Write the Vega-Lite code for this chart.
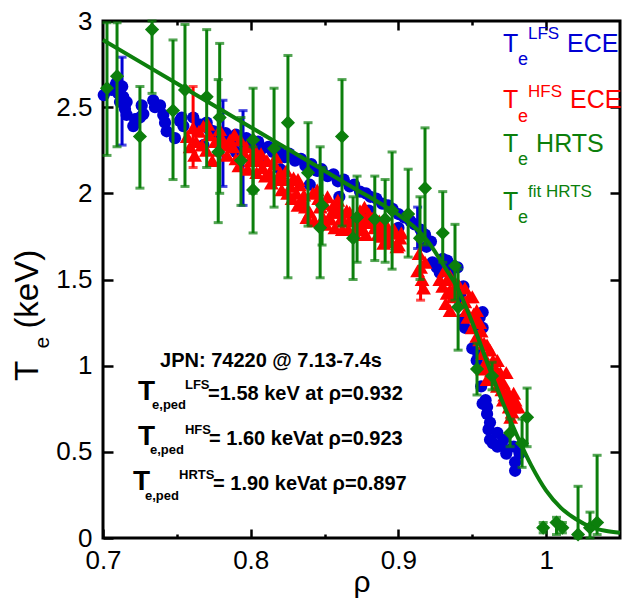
{
  "$schema": "https://vega.github.io/schema/vega-lite/v6.json",
  "width": 517,
  "height": 517,
  "autosize": {"type": "none"},
  "padding": {"left": 103, "top": 21, "right": 5, "bottom": 61},
  "background": "white",
  "config": {
    "font": "Liberation Sans",
    "view": {"stroke": "black", "strokeWidth": 3},
    "axis": {"grid": false, "domain": false, "tickColor": "black", "tickWidth": 2.5, "labelColor": "black", "labelFont": "Liberation Sans", "labelFontSize": 26, "labelFlush": false, "labelOverlap": false, "titleColor": "black", "titleFont": "Liberation Sans", "titleFontWeight": "normal"}
  },
  "resolve": {"axis": {"x": "independent", "y": "independent"}},
  "datasets": {
    "lfs": [
      {"rho":0.7005,"te":2.57},{"rho":0.7030,"te":2.60},{"rho":0.7059,"te":2.60},{"rho":0.7080,"te":2.62},{"rho":0.7090,"te":2.64},{"rho":0.7104,"te":2.58},{"rho":0.7130,"te":2.62},{"rho":0.7115,"te":2.60},{"rho":0.7137,"te":2.56},{"rho":0.7115,"te":2.53},{"rho":0.7135,"te":2.54},{"rho":0.7160,"te":2.53},{"rho":0.7149,"te":2.49},{"rho":0.7160,"te":2.455},{"rho":0.7217,"te":2.43},{"rho":0.7205,"te":2.39},{"rho":0.7262,"te":2.51},{"rho":0.7273,"te":2.46},{"rho":0.7250,"te":2.44},{"rho":0.7340,"te":2.54},{"rho":0.7352,"te":2.50},{"rho":0.7386,"te":2.51},{"rho":0.7408,"te":2.455},{"rho":0.7420,"te":2.41},{"rho":0.7431,"te":2.36},{"rho":0.7487,"te":2.32},{"rho":0.7533,"te":2.44},{"rho":0.7544,"te":2.39},{"rho":0.7520,"te":2.42},{"rho":0.7611,"te":2.44},{"rho":0.7650,"te":2.40},{"rho":0.7680,"te":2.28},{"rho":0.7702,"te":2.41},{"rho":0.7720,"te":2.37},
      {"rho":0.775,"te":2.36},{"rho":0.779,"te":2.33},{"rho":0.783,"te":2.35},{"rho":0.787,"te":2.31},{"rho":0.790,"te":2.34},{"rho":0.794,"te":2.30},{"rho":0.797,"te":2.32},{"rho":0.801,"te":2.28},{"rho":0.805,"te":2.30},{"rho":0.808,"te":2.26},{"rho":0.812,"te":2.27},{"rho":0.815,"te":2.24},{"rho":0.819,"te":2.25},{"rho":0.823,"te":2.21},{"rho":0.826,"te":2.23},{"rho":0.830,"te":2.19},{"rho":0.834,"te":2.20},{"rho":0.837,"te":2.16},{"rho":0.841,"te":2.17},{"rho":0.845,"te":2.13},{"rho":0.848,"te":2.14},{"rho":0.852,"te":2.10},{"rho":0.856,"te":2.11},{"rho":0.859,"te":2.07},{"rho":0.863,"te":2.08},{"rho":0.867,"te":2.04},{"rho":0.870,"te":2.05},{"rho":0.874,"te":2.01},{"rho":0.878,"te":2.00},{"rho":0.881,"te":1.98},{"rho":0.885,"te":1.97},{"rho":0.889,"te":1.94},{"rho":0.893,"te":1.93},{"rho":0.896,"te":1.91},{"rho":0.900,"te":1.88},{"rho":0.904,"te":1.86},{"rho":0.908,"te":1.84},{"rho":0.911,"te":1.82},{"rho":0.915,"te":1.79},{"rho":0.918,"te":1.76},
      {"rho":0.790,"te":2.24},{"rho":0.805,"te":2.20},{"rho":0.820,"te":2.14},{"rho":0.840,"te":2.05},{"rho":0.860,"te":1.98},{"rho":0.880,"te":1.90},{"rho":0.900,"te":1.80},
      {"rho":0.919,"te":1.69},{"rho":0.922,"te":1.72},{"rho":0.923,"te":1.60},{"rho":0.926,"te":1.57},{"rho":0.928,"te":1.54},{"rho":0.930,"te":1.62},{"rho":0.933,"te":1.61},{"rho":0.935,"te":1.54},{"rho":0.936,"te":1.58},{"rho":0.940,"te":1.57},{"rho":0.942,"te":1.42},{"rho":0.944,"te":1.46},{"rho":0.942,"te":1.36},{"rho":0.944,"te":1.27},{"rho":0.944,"te":1.25},{"rho":0.945,"te":1.22},{"rho":0.950,"te":1.10},{"rho":0.953,"te":1.03},{"rho":0.954,"te":1.07},{"rho":0.955,"te":1.28},{"rho":0.957,"te":1.22},{"rho":0.957,"te":1.31},{"rho":0.956,"te":0.88},{"rho":0.957,"te":0.78},{"rho":0.959,"te":0.80},{"rho":0.960,"te":0.76},{"rho":0.960,"te":0.72},{"rho":0.961,"te":0.63},{"rho":0.962,"te":0.67},{"rho":0.962,"te":0.57},{"rho":0.964,"te":0.55},{"rho":0.967,"te":0.61},{"rho":0.967,"te":0.53},{"rho":0.971,"te":0.57},{"rho":0.973,"te":0.51},{"rho":0.973,"te":0.49},{"rho":0.978,"te":0.53},{"rho":0.979,"te":0.44},{"rho":0.979,"te":0.39},{"rho":0.982,"te":0.49}
    ],
    "lfs_err": [
      {"rho":0.7129,"lo":2.28,"hi":2.79},{"rho":0.7812,"lo":2.04,"hi":2.54},{"rho":0.7948,"lo":1.93,"hi":2.48},{"rho":0.913,"lo":1.68,"hi":1.92}
    ],
    "hfs": [
      {"rho":0.757,"te":2.33},{"rho":0.759,"te":2.27},{"rho":0.761,"te":2.38},{"rho":0.763,"te":2.30},{"rho":0.765,"te":2.36},{"rho":0.768,"te":2.39},{"rho":0.770,"te":2.25},{"rho":0.772,"te":2.34},{"rho":0.774,"te":2.19},{"rho":0.776,"te":2.30},{"rho":0.779,"te":2.37},{"rho":0.781,"te":2.31},{"rho":0.784,"te":2.22},{"rho":0.786,"te":2.31},{"rho":0.788,"te":2.27},{"rho":0.790,"te":2.20},{"rho":0.793,"te":2.31},{"rho":0.795,"te":2.24},{"rho":0.797,"te":2.27},{"rho":0.800,"te":2.19},{"rho":0.801,"te":2.22},{"rho":0.803,"te":2.25},{"rho":0.806,"te":2.19},{"rho":0.808,"te":2.15},{"rho":0.811,"te":2.19},{"rho":0.813,"te":2.12},{"rho":0.816,"te":2.17},{"rho":0.818,"te":2.08},{"rho":0.820,"te":2.12},{"rho":0.822,"te":2.08},{"rho":0.824,"te":2.13},{"rho":0.827,"te":2.04},{"rho":0.829,"te":2.09},{"rho":0.831,"te":2.00},{"rho":0.832,"te":2.08},{"rho":0.833,"te":2.05},{"rho":0.835,"te":1.96},{"rho":0.836,"te":1.99},{"rho":0.838,"te":1.86},{"rho":0.840,"te":1.89},{"rho":0.842,"te":2.00},{"rho":0.845,"te":2.02},{"rho":0.847,"te":1.92},{"rho":0.849,"te":1.86},{"rho":0.850,"te":1.94},{"rho":0.852,"te":1.98},{"rho":0.854,"te":1.85},{"rho":0.856,"te":1.93},{"rho":0.858,"te":1.89},{"rho":0.859,"te":1.96},{"rho":0.861,"te":1.85},{"rho":0.862,"te":1.79},{"rho":0.865,"te":1.90},{"rho":0.867,"te":1.89},{"rho":0.869,"te":1.84},{"rho":0.872,"te":1.81},{"rho":0.874,"te":1.90},{"rho":0.876,"te":1.79},{"rho":0.877,"te":1.92},{"rho":0.879,"te":1.85},{"rho":0.881,"te":1.83},{"rho":0.883,"te":1.86},{"rho":0.886,"te":1.76},{"rho":0.888,"te":1.81},{"rho":0.890,"te":1.71},{"rho":0.893,"te":1.80},{"rho":0.896,"te":1.77},{"rho":0.899,"te":1.69},{"rho":0.901,"te":1.74},
      {"rho":0.762,"te":2.22},{"rho":0.767,"te":2.28},{"rho":0.771,"te":2.40},{"rho":0.778,"te":2.25},{"rho":0.783,"te":2.28},{"rho":0.789,"te":2.34},{"rho":0.792,"te":2.16},{"rho":0.798,"te":2.14},{"rho":0.804,"te":2.12},{"rho":0.807,"te":2.23},{"rho":0.810,"te":2.10},{"rho":0.814,"te":2.06},{"rho":0.817,"te":2.21},{"rho":0.821,"te":2.02},{"rho":0.825,"te":2.00},{"rho":0.828,"te":1.97},{"rho":0.832,"te":1.93},{"rho":0.837,"te":1.92},{"rho":0.843,"te":1.84},{"rho":0.846,"te":1.97},{"rho":0.851,"te":1.82},{"rho":0.855,"te":1.89},{"rho":0.857,"te":1.80},{"rho":0.860,"te":1.91},{"rho":0.863,"te":1.84},{"rho":0.866,"te":1.79},{"rho":0.868,"te":1.86},{"rho":0.871,"te":1.76},{"rho":0.873,"te":1.86},{"rho":0.875,"te":1.84},{"rho":0.878,"te":1.76},{"rho":0.880,"te":1.88},{"rho":0.884,"te":1.80},{"rho":0.887,"te":1.84},{"rho":0.889,"te":1.75},{"rho":0.892,"te":1.74},{"rho":0.895,"te":1.72},{"rho":0.897,"te":1.79},{"rho":0.900,"te":1.70},{"rho":0.902,"te":1.77},
      {"rho":0.914,"te":1.65},{"rho":0.915,"te":1.57},{"rho":0.916,"te":1.50},{"rho":0.917,"te":1.45},{"rho":0.918,"te":1.60},{"rho":0.913,"te":1.55},{"rho":0.928,"te":1.50},{"rho":0.931,"te":1.55},{"rho":0.933,"te":1.50},{"rho":0.935,"te":1.44},{"rho":0.937,"te":1.40},{"rho":0.935,"te":1.52},{"rho":0.933,"te":1.42},{"rho":0.935,"te":1.32},{"rho":0.930,"te":1.46},{"rho":0.932,"te":1.36},{"rho":0.938,"te":1.45},{"rho":0.940,"te":1.48},{"rho":0.945,"te":1.37},{"rho":0.945,"te":1.45},{"rho":0.946,"te":1.32},{"rho":0.947,"te":1.28},{"rho":0.948,"te":1.40},{"rho":0.950,"te":1.40},{"rho":0.951,"te":1.30},{"rho":0.952,"te":1.25},{"rho":0.953,"te":1.32},{"rho":0.950,"te":1.22},{"rho":0.953,"te":1.17},{"rho":0.955,"te":1.15},{"rho":0.955,"te":1.25},{"rho":0.956,"te":1.20},{"rho":0.958,"te":1.13},{"rho":0.957,"te":1.07},{"rho":0.957,"te":0.98},{"rho":0.959,"te":1.02},{"rho":0.960,"te":0.92},{"rho":0.960,"te":1.12},{"rho":0.961,"te":1.00},{"rho":0.962,"te":1.09},{"rho":0.963,"te":0.97},{"rho":0.964,"te":1.03},{"rho":0.965,"te":0.94},{"rho":0.966,"te":0.98},{"rho":0.967,"te":1.03},{"rho":0.968,"te":0.92},{"rho":0.969,"te":0.96},{"rho":0.970,"te":0.86},{"rho":0.971,"te":0.90},{"rho":0.972,"te":0.83},{"rho":0.973,"te":0.96},{"rho":0.967,"te":0.88},{"rho":0.975,"te":0.76},{"rho":0.976,"te":0.80},{"rho":0.977,"te":0.73},{"rho":0.978,"te":0.76},{"rho":0.976,"te":0.70},{"rho":0.971,"te":0.80},{"rho":0.974,"te":0.85},{"rho":0.978,"te":0.84},{"rho":0.979,"te":0.80},{"rho":0.981,"te":0.76}
    ],
    "hfs_err": [
      {"rho":0.761,"lo":2.15,"hi":2.62},{"rho":0.915,"lo":1.38,"hi":1.75}
    ],
    "hrts": [
      {"rho":0.7027,"te":2.61,"lo":2.22,"hi":2.99},{"rho":0.7095,"te":2.68,"lo":2.27,"hi":2.99},{"rho":0.7332,"te":2.95,"lo":2.58,"hi":3.0},{"rho":0.7250,"te":2.33,"lo":2.03,"hi":2.62},{"rho":0.7555,"te":2.60,"lo":2.04,"hi":2.98},{"rho":0.7474,"te":2.48,"lo":2.08,"hi":2.89},{"rho":0.7702,"te":2.56,"lo":2.15,"hi":2.95},{"rho":0.7780,"te":2.24,"lo":1.83,"hi":2.66},{"rho":0.7790,"te":2.44,"lo":2.00,"hi":2.87},{"rho":0.7934,"te":2.19,"lo":1.93,"hi":2.44},{"rho":0.8016,"te":2.31,"lo":2.00,"hi":2.61},{"rho":0.8016,"te":2.02,"lo":1.77,"hi":2.27},{"rho":0.8158,"te":2.26,"lo":1.92,"hi":2.61},{"rho":0.8252,"te":2.41,"lo":1.51,"hi":2.80},{"rho":0.8388,"te":2.12,"lo":1.81,"hi":2.41},{"rho":0.8470,"te":1.80,"lo":1.51,"hi":2.27},{"rho":0.8483,"te":1.93,"lo":1.70,"hi":2.15},{"rho":0.8618,"te":2.33,"lo":1.81,"hi":2.66},{"rho":0.8693,"te":1.74,"lo":1.50,"hi":1.98},{"rho":0.8720,"te":1.86,"lo":1.60,"hi":2.10},{"rho":0.8840,"te":1.85,"lo":1.61,"hi":2.10},{"rho":0.8910,"te":1.85,"lo":1.60,"hi":2.08},{"rho":0.8957,"te":1.90,"lo":1.56,"hi":2.24},{"rho":0.9066,"te":1.88,"lo":1.63,"hi":2.14},{"rho":0.9146,"te":1.74,"lo":1.50,"hi":1.98},{"rho":0.9180,"te":2.03,"lo":1.70,"hi":2.38},{"rho":0.9300,"te":1.77,"lo":1.60,"hi":2.01},{"rho":0.9383,"te":1.58,"lo":1.38,"hi":1.82},{"rho":0.9404,"te":1.34,"lo":1.09,"hi":1.56},{"rho":0.9532,"te":0.98,"lo":0.83,"hi":1.13},{"rho":0.9634,"te":0.94,"lo":0.86,"hi":1.02},{"rho":0.9756,"te":0.61,"lo":0.53,"hi":0.69},{"rho":0.9871,"te":0.70,"lo":0.53,"hi":0.87},{"rho":0.9837,"te":0.55,"lo":0.41,"hi":0.69},{"rho":0.9980,"te":0.06,"lo":0.03,"hi":0.09},{"rho":1.0070,"te":0.09,"lo":0.02,"hi":0.12},{"rho":1.0110,"te":0.06,"lo":0.03,"hi":0.09},{"rho":1.0216,"te":0.02,"lo":0.0,"hi":0.30},{"rho":1.0297,"te":0.06,"lo":0.0,"hi":0.15},{"rho":1.0345,"te":0.09,"lo":0.02,"hi":0.48}
    ],
    "fit": [
      {"rho":0.70,"te":2.89},{"rho":0.75,"te":2.637},{"rho":0.80,"te":2.384},{"rho":0.85,"te":2.131},{"rho":0.87,"te":2.03},{"rho":0.89,"te":1.93},{"rho":0.90,"te":1.875},{"rho":0.91,"te":1.81},{"rho":0.92,"te":1.72},{"rho":0.93,"te":1.59},{"rho":0.94,"te":1.45},{"rho":0.95,"te":1.25},{"rho":0.96,"te":1.02},{"rho":0.97,"te":0.80},{"rho":0.98,"te":0.60},{"rho":0.99,"te":0.42},{"rho":1.00,"te":0.275},{"rho":1.01,"te":0.175},{"rho":1.02,"te":0.11},{"rho":1.03,"te":0.065},{"rho":1.04,"te":0.042},{"rho":1.05,"te":0.03}
    ],
    "leg_big": [
      {"rho":0.9708,"te":2.82,"s":"LFS","t":"T"},{"rho":0.9708,"te":2.496,"s":"HFS","t":"T"},{"rho":0.9708,"te":2.24,"s":"HRTS","t":"T"},{"rho":0.9708,"te":1.904,"s":"HRTS","t":"T"},
      {"rho":1.0142,"te":2.82,"s":"LFS","t":"ECE"},{"rho":1.0162,"te":2.496,"s":"HFS","t":"ECE"},{"rho":0.9932,"te":2.24,"s":"HRTS","t":"HRTS"}
    ],
    "leg_sub": [
      {"rho":0.981,"te":2.745,"s":"LFS","t":"e"},{"rho":0.981,"te":2.414,"s":"HFS","t":"e"},{"rho":0.981,"te":2.165,"s":"HRTS","t":"e"},{"rho":0.981,"te":1.83,"s":"HRTS","t":"e"}
    ],
    "leg_sup": [
      {"rho":0.9877,"te":2.896,"s":"LFS","t":"LFS"},{"rho":0.9877,"te":2.56,"s":"HFS","t":"HFS"},{"rho":0.9877,"te":1.979,"s":"HRTS","t":"fit HRTS"}
    ],
    "note_main": [
      {"rho":0.7386,"te":0.9925,"t":"JPN: 74220 @ 7.13-7.4s"},{"rho":0.7711,"te":0.801,"t":"=1.58 keV at ρ=0.932"},{"rho":0.7718,"te":0.54,"t":"= 1.60 keVat ρ=0.923"},{"rho":0.7745,"te":0.279,"t":"= 1.90 keVat ρ=0.897"}
    ],
    "note_T": [
      {"rho":0.7237,"te":0.801,"t":"T"},{"rho":0.7237,"te":0.54,"t":"T"},{"rho":0.7203,"te":0.279,"t":"T"}
    ],
    "note_small": [
      {"rho":0.7332,"te":0.749,"t":"e,ped"},{"rho":0.7318,"te":0.4875,"t":"e,ped"},{"rho":0.7284,"te":0.2205,"t":"e,ped"},
      {"rho":0.7555,"te":0.865,"t":"LFS"},{"rho":0.7555,"te":0.604,"t":"HFS"},{"rho":0.7515,"te":0.342,"t":"HRTS"}
    ],
    "ytitle": [
      {"rho":0.656,"te":0.911,"t":"T"},{"rho":0.656,"te":1.215,"t":"(keV)"}
    ],
    "ytitle_sub": [
      {"rho":0.6634,"te":1.10,"t":"e"}
    ]
  },
  "layer": [
    {"data": {"name": "lfs_err"}, "mark": {"type": "rule", "color": "#0000d4", "strokeWidth": 3},
     "encoding": {"x": {"field": "rho", "type": "quantitative", "axis": null}, "y": {"field": "lo", "type": "quantitative", "axis": null}, "y2": {"field": "hi"}}},
    {"data": {"name": "lfs_err"}, "mark": {"type": "tick", "orient": "horizontal", "color": "#0000d4", "size": 9, "thickness": 3},
     "encoding": {"x": {"field": "rho", "type": "quantitative", "axis": null}, "y": {"field": "lo", "type": "quantitative", "axis": null}}},
    {"data": {"name": "lfs_err"}, "mark": {"type": "tick", "orient": "horizontal", "color": "#0000d4", "size": 9, "thickness": 3},
     "encoding": {"x": {"field": "rho", "type": "quantitative", "axis": null}, "y": {"field": "hi", "type": "quantitative", "axis": null}}},
    {"data": {"name": "lfs"}, "mark": {"type": "point", "shape": "circle", "filled": true, "color": "#0000d4", "size": 150, "opacity": 1},
     "encoding": {
       "x": {"field": "rho", "type": "quantitative", "axis": {"orient": "top", "values": [0.8, 0.9, 1.0], "labels": false, "tickSize": -9, "title": null}},
       "y": {"field": "te", "type": "quantitative", "axis": {"orient": "right", "values": [0.5, 1, 1.5, 2, 2.5], "labels": false, "tickSize": -10, "title": null}}}},
    {"data": {"name": "hfs_err"}, "mark": {"type": "rule", "color": "#ff0000", "strokeWidth": 3},
     "encoding": {"x": {"field": "rho", "type": "quantitative", "axis": null}, "y": {"field": "lo", "type": "quantitative", "axis": null}, "y2": {"field": "hi"}}},
    {"data": {"name": "hfs_err"}, "mark": {"type": "tick", "orient": "horizontal", "color": "#ff0000", "size": 9, "thickness": 3},
     "encoding": {"x": {"field": "rho", "type": "quantitative", "axis": null}, "y": {"field": "lo", "type": "quantitative", "axis": null}}},
    {"data": {"name": "hfs_err"}, "mark": {"type": "tick", "orient": "horizontal", "color": "#ff0000", "size": 9, "thickness": 3},
     "encoding": {"x": {"field": "rho", "type": "quantitative", "axis": null}, "y": {"field": "hi", "type": "quantitative", "axis": null}}},
    {"data": {"name": "hfs"}, "mark": {"type": "point", "shape": "triangle-up", "filled": true, "color": "#ff0000", "size": 220, "opacity": 1},
     "encoding": {
       "x": {"field": "rho", "type": "quantitative", "axis": {"orient": "bottom", "values": [0.75, 0.85, 0.95], "labels": false, "tickSize": -4, "title": null}},
       "y": {"field": "te", "type": "quantitative", "axis": null}}},
    {"data": {"name": "hrts"}, "mark": {"type": "rule", "color": "#0c7f0c", "strokeWidth": 3},
     "encoding": {"x": {"field": "rho", "type": "quantitative", "axis": null}, "y": {"field": "lo", "type": "quantitative", "axis": null}, "y2": {"field": "hi"}}},
    {"data": {"name": "hrts"}, "mark": {"type": "tick", "orient": "horizontal", "color": "#0c7f0c", "size": 9, "thickness": 3},
     "encoding": {"x": {"field": "rho", "type": "quantitative", "axis": null}, "y": {"field": "lo", "type": "quantitative", "axis": null}}},
    {"data": {"name": "hrts"}, "mark": {"type": "tick", "orient": "horizontal", "color": "#0c7f0c", "size": 9, "thickness": 3},
     "encoding": {"x": {"field": "rho", "type": "quantitative", "axis": null}, "y": {"field": "hi", "type": "quantitative", "axis": null}}},
    {"data": {"name": "hrts"}, "mark": {"type": "point", "shape": "diamond", "filled": true, "color": "#0c7f0c", "size": 200, "opacity": 1},
     "encoding": {
       "x": {"field": "rho", "type": "quantitative", "axis": {"orient": "top", "values": [0.75, 0.85, 0.95], "labels": false, "tickSize": -4, "title": null}},
       "y": {"field": "te", "type": "quantitative", "axis": null}}},
    {"data": {"name": "fit"}, "mark": {"type": "line", "color": "#0c7f0c", "strokeWidth": 4, "interpolate": "monotone"},
     "encoding": {
       "x": {"field": "rho", "type": "quantitative", "scale": {"domain": [0.7, 1.05], "nice": false, "zero": false},
             "axis": {"orient": "bottom", "values": [0.7, 0.8, 0.9, 1.0], "format": "~g", "tickSize": -9, "labelPadding": 18, "title": "ρ", "titleFontSize": 30, "titlePadding": -6}},
       "y": {"field": "te", "type": "quantitative", "scale": {"domain": [0, 3], "nice": false, "zero": false},
             "axis": {"orient": "left", "values": [0, 0.5, 1, 1.5, 2, 2.5, 3], "format": "~g", "tickSize": -10, "labelPadding": 21, "title": null}}}},
    {"mark": {"type": "point", "shape": "circle", "filled": true, "color": "#0000d4", "size": 64, "opacity": 1},
     "encoding": {"x": {"datum": 0.950, "type": "quantitative", "axis": null}, "y": {"datum": 2.93, "type": "quantitative", "axis": null}}},
    {"mark": {"type": "point", "shape": "triangle-up", "filled": false, "color": "#ff0000", "strokeWidth": 2, "size": 70, "opacity": 1},
     "encoding": {"x": {"datum": 0.950, "type": "quantitative", "axis": null}, "y": {"datum": 2.58, "type": "quantitative", "axis": null}}},
    {"mark": {"type": "point", "shape": "diamond", "filled": true, "color": "#0c7f0c", "size": 150, "opacity": 1},
     "encoding": {"x": {"datum": 0.950, "type": "quantitative", "axis": null}, "y": {"datum": 2.30, "type": "quantitative", "axis": null}}},
    {"mark": {"type": "rule", "color": "#0c7f0c", "strokeWidth": 4},
     "encoding": {"x": {"datum": 0.9316, "type": "quantitative", "axis": null}, "x2": {"datum": 0.9674}, "y": {"datum": 2.008, "type": "quantitative", "axis": null}}},
    {"data": {"name": "leg_big"}, "mark": {"type": "text", "font": "Liberation Sans", "fontSize": 25, "align": "left", "baseline": "alphabetic"},
     "encoding": {"x": {"field": "rho", "type": "quantitative", "axis": null}, "y": {"field": "te", "type": "quantitative", "axis": null}, "text": {"field": "t"},
       "color": {"field": "s", "type": "nominal", "scale": {"domain": ["LFS", "HFS", "HRTS"], "range": ["#0000d4", "#ff0000", "#0c7f0c"]}, "legend": null}}},
    {"data": {"name": "leg_sub"}, "mark": {"type": "text", "font": "Liberation Sans", "fontSize": 18, "align": "left", "baseline": "alphabetic"},
     "encoding": {"x": {"field": "rho", "type": "quantitative", "axis": null}, "y": {"field": "te", "type": "quantitative", "axis": null}, "text": {"field": "t"},
       "color": {"field": "s", "type": "nominal", "legend": null}}},
    {"data": {"name": "leg_sup"}, "mark": {"type": "text", "font": "Liberation Sans", "fontSize": 17, "align": "left", "baseline": "alphabetic"},
     "encoding": {"x": {"field": "rho", "type": "quantitative", "axis": null}, "y": {"field": "te", "type": "quantitative", "axis": null}, "text": {"field": "t"},
       "color": {"field": "s", "type": "nominal", "legend": null}}},
    {"data": {"name": "note_main"}, "mark": {"type": "text", "font": "Liberation Sans", "fontSize": 20, "fontWeight": "bold", "color": "black", "align": "left", "baseline": "alphabetic"},
     "encoding": {"x": {"field": "rho", "type": "quantitative", "axis": null}, "y": {"field": "te", "type": "quantitative", "axis": null}, "text": {"field": "t"}}},
    {"data": {"name": "note_T"}, "mark": {"type": "text", "font": "Liberation Sans", "fontSize": 28, "fontWeight": "bold", "color": "black", "align": "left", "baseline": "alphabetic"},
     "encoding": {"x": {"field": "rho", "type": "quantitative", "axis": null}, "y": {"field": "te", "type": "quantitative", "axis": null}, "text": {"field": "t"}}},
    {"data": {"name": "note_small"}, "mark": {"type": "text", "font": "Liberation Sans", "fontSize": 13, "fontWeight": "bold", "color": "black", "align": "left", "baseline": "alphabetic"},
     "encoding": {"x": {"field": "rho", "type": "quantitative", "axis": null}, "y": {"field": "te", "type": "quantitative", "axis": null}, "text": {"field": "t"}}},
    {"data": {"name": "ytitle"}, "mark": {"type": "text", "font": "Liberation Sans", "fontSize": 33, "color": "black", "align": "left", "baseline": "alphabetic", "angle": 270},
     "encoding": {"x": {"field": "rho", "type": "quantitative", "axis": null}, "y": {"field": "te", "type": "quantitative", "axis": null}, "text": {"field": "t"}}},
    {"data": {"name": "ytitle_sub"}, "mark": {"type": "text", "font": "Liberation Sans", "fontSize": 21, "color": "black", "align": "left", "baseline": "alphabetic", "angle": 270},
     "encoding": {"x": {"field": "rho", "type": "quantitative", "axis": null}, "y": {"field": "te", "type": "quantitative", "axis": null}, "text": {"field": "t"}}}
  ]
}
